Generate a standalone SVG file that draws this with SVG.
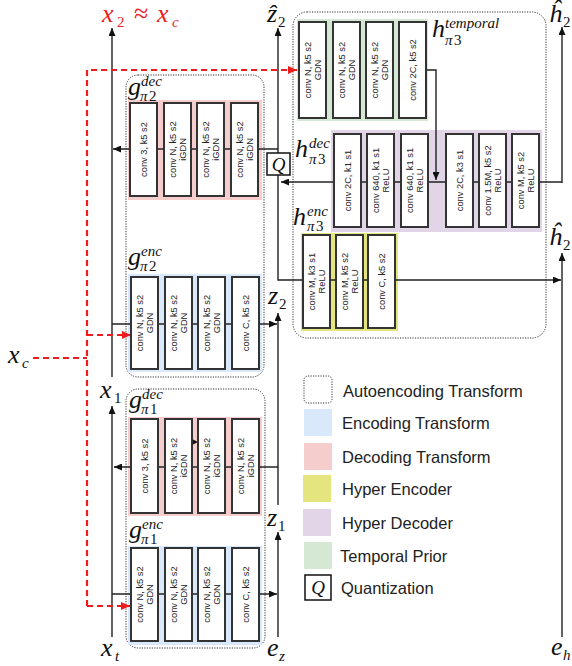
<svg xmlns="http://www.w3.org/2000/svg" width="572" height="666" viewBox="0 0 572 666">
<defs>
<style>
.bx{fill:#fff;stroke:#333;stroke-width:2}
.t{font-family:"Liberation Sans",Arial,sans-serif;font-size:9.3px;fill:#222;text-anchor:middle}
.ln{fill:none;stroke:#222;stroke-width:1.4}
.rd{fill:none;stroke:#ee1c1c;stroke-width:2.2;stroke-dasharray:6 4}
.dt{fill:none;stroke:#333;stroke-width:1;stroke-dasharray:1.2 1.3}
.m{font-family:"Liberation Serif","Times New Roman",serif;font-style:italic;font-size:26px;fill:#111}
.s{font-size:15px}
.u{font-style:normal}
.red{fill:#ee1c1c}
.lg{font-family:"Liberation Sans",Arial,sans-serif;font-size:16.5px;fill:#222}
.enc{fill:#dae8fc}
.dec{fill:#f5cdcd}
.hen{fill:#e4e57f}
.hde{fill:#e1d5e7}
.tem{fill:#d5e8d4}
</style>
<marker id="ah" viewBox="0 0 8 7" refX="8" refY="3.5" markerWidth="8" markerHeight="7" markerUnits="userSpaceOnUse" orient="auto"><path d="M0,0L8,3.5L0,7z" fill="#111"/></marker>
<marker id="rh" viewBox="0 0 9 8" refX="9" refY="4" markerWidth="9" markerHeight="8" markerUnits="userSpaceOnUse" orient="auto"><path d="M0,0L9,4L0,8z" fill="#ee1c1c"/></marker>
</defs>
<rect width="572" height="666" fill="#fff"/>

<!-- autoencoding (dotted) regions -->
<g id="ae2"><rect class="dt" x="126" y="75" width="138" height="302" rx="12"/></g>
<g id="ae1"><rect class="dt" x="126" y="389" width="139" height="259" rx="12"/></g>
<g id="hyper"><rect class="dt" x="293" y="12" width="253" height="326" rx="14"/></g>

<!-- backgrounds -->
<g id="bg">
<rect id="bg-g2dec" class="dec" x="128" y="100" width="134" height="100"/>
<rect id="bg-g2enc" class="enc" x="128" y="274" width="134" height="98"/>
<rect id="bg-g1dec" class="dec" x="128" y="417" width="134" height="99"/>
<rect id="bg-g1enc" class="enc" x="128" y="546" width="134" height="99"/>
<rect id="bg-temp" class="tem" x="297" y="19" width="131" height="102"/>
<rect id="bg-hdec" class="hde" x="331" y="130" width="211" height="102"/>
<rect id="bg-henc" class="hen" x="301" y="233" width="97" height="98"/>
</g>

<!-- connectors -->
<g id="connectors">
<path class="ln" d="M112,377V28" marker-end="url(#ah)"/>
<path class="ln" d="M278,149H113" marker-end="url(#ah)"/>
<path class="ln" d="M278,153V28" marker-end="url(#ah)"/>
<path class="ln" d="M278,175V280H561" marker-end="url(#ah)"/>
<path class="ln" d="M562,182H281" marker-end="url(#ah)"/>
<path class="ln" d="M562,183V27" marker-end="url(#ah)"/>
<path class="ln" d="M562,637V253" marker-end="url(#ah)"/>
<path class="ln" d="M427,70H436V180" marker-end="url(#ah)"/>
<path class="ln" d="M112,324H277" marker-end="url(#ah)"/>
<path class="ln" d="M278,505V313" marker-end="url(#ah)"/>
<path class="ln" d="M278,467H114" marker-end="url(#ah)"/>
<path class="ln" d="M112,637V406" marker-end="url(#ah)"/>
<path class="ln" d="M112,594H277" marker-end="url(#ah)"/>
<path class="ln" d="M278,637V532" marker-end="url(#ah)"/>
<path d="M193,439.5L198,442L193,444.5z" fill="#111"/>
<path class="rd" d="M87,606V70H297" marker-end="url(#rh)"/>
<path class="rd" d="M87,335H131" marker-end="url(#rh)"/>
<path class="rd" d="M87,606H130" marker-end="url(#rh)"/>
<path class="rd" d="M33,358H87"/>
</g>

<!-- g_pi2 decoder -->
<g id="g2dec">
<rect class="bx" x="130" y="103" width="27" height="93"/>
<text class="t" transform="translate(143.5,149.5) rotate(-90)" y="3.3">conv 3, k5 s2</text>
<rect class="bx" x="164" y="103" width="27" height="93"/>
<text class="t" transform="translate(177.5,149.5) rotate(-90)"><tspan x="0" y="-1.6">conv N, k5 s2</tspan><tspan x="0" y="8.2">iGDN</tspan></text>
<rect class="bx" x="197" y="103" width="27" height="93"/>
<text class="t" transform="translate(210.5,149.5) rotate(-90)"><tspan x="0" y="-1.6">conv N, k5 s2</tspan><tspan x="0" y="8.2">iGDN</tspan></text>
<rect class="bx" x="231" y="103" width="27" height="93"/>
<text class="t" transform="translate(244.5,149.5) rotate(-90)"><tspan x="0" y="-1.6">conv N, k5 s2</tspan><tspan x="0" y="8.2">iGDN</tspan></text>
</g>

<!-- g_pi2 encoder -->
<g id="g2enc">
<rect class="bx" x="131" y="277" width="27" height="92"/>
<text class="t" transform="translate(144.5,323) rotate(-90)"><tspan x="0" y="-1.6">conv N, k5 s2</tspan><tspan x="0" y="8.2">GDN</tspan></text>
<rect class="bx" x="165" y="277" width="27" height="92"/>
<text class="t" transform="translate(178.5,323) rotate(-90)"><tspan x="0" y="-1.6">conv N, k5 s2</tspan><tspan x="0" y="8.2">GDN</tspan></text>
<rect class="bx" x="198" y="277" width="27" height="92"/>
<text class="t" transform="translate(211.5,323) rotate(-90)"><tspan x="0" y="-1.6">conv N, k5 s2</tspan><tspan x="0" y="8.2">GDN</tspan></text>
<rect class="bx" x="232" y="277" width="27" height="92"/>
<text class="t" transform="translate(245.5,323) rotate(-90)" y="3.3">conv C, k5 s2</text>
</g>

<!-- g_pi1 decoder -->
<g id="g1dec">
<rect class="bx" x="131" y="419" width="27" height="94"/>
<text class="t" transform="translate(144.5,466) rotate(-90)" y="3.3">conv 3, k5 s2</text>
<rect class="bx" x="165" y="419" width="27" height="94"/>
<text class="t" transform="translate(178.5,466) rotate(-90)"><tspan x="0" y="-1.6">conv N, k5 s2</tspan><tspan x="0" y="8.2">iGDN</tspan></text>
<rect class="bx" x="198" y="419" width="27" height="94"/>
<text class="t" transform="translate(211.5,466) rotate(-90)"><tspan x="0" y="-1.6">conv N, k5 s2</tspan><tspan x="0" y="8.2">iGDN</tspan></text>
<rect class="bx" x="232" y="419" width="27" height="94"/>
<text class="t" transform="translate(245.5,466) rotate(-90)"><tspan x="0" y="-1.6">conv N, k5 s2</tspan><tspan x="0" y="8.2">iGDN</tspan></text>
</g>

<!-- g_pi1 encoder -->
<g id="g1enc">
<rect class="bx" x="131" y="548" width="27" height="93"/>
<text class="t" transform="translate(144.5,594.5) rotate(-90)"><tspan x="0" y="-1.6">conv N, k5 s2</tspan><tspan x="0" y="8.2">GDN</tspan></text>
<rect class="bx" x="165" y="548" width="27" height="93"/>
<text class="t" transform="translate(178.5,594.5) rotate(-90)"><tspan x="0" y="-1.6">conv N, k5 s2</tspan><tspan x="0" y="8.2">GDN</tspan></text>
<rect class="bx" x="198" y="548" width="27" height="93"/>
<text class="t" transform="translate(211.5,594.5) rotate(-90)"><tspan x="0" y="-1.6">conv N, k5 s2</tspan><tspan x="0" y="8.2">GDN</tspan></text>
<rect class="bx" x="232" y="548" width="27" height="93"/>
<text class="t" transform="translate(245.5,594.5) rotate(-90)" y="3.3">conv C, k5 s2</text>
</g>

<!-- temporal prior -->
<g id="temporal">
<rect class="bx" x="299" y="22" width="27" height="96"/>
<text class="t" transform="translate(312.5,70) rotate(-90)"><tspan x="0" y="-1.6">conv N, k5 s2</tspan><tspan x="0" y="8.2">GDN</tspan></text>
<rect class="bx" x="333" y="22" width="27" height="96"/>
<text class="t" transform="translate(346.5,70) rotate(-90)"><tspan x="0" y="-1.6">conv N, k5 s2</tspan><tspan x="0" y="8.2">GDN</tspan></text>
<rect class="bx" x="366" y="22" width="27" height="96"/>
<text class="t" transform="translate(379.5,70) rotate(-90)"><tspan x="0" y="-1.6">conv N, k5 s2</tspan><tspan x="0" y="8.2">GDN</tspan></text>
<rect class="bx" x="399" y="22" width="27" height="96"/>
<text class="t" transform="translate(412.5,70) rotate(-90)" y="3.3">conv 2C, k5 s2</text>
</g>

<!-- hyper decoder -->
<g id="hdec">
<rect class="bx" x="334" y="134" width="27" height="93"/>
<text class="t" transform="translate(347.5,180.5) rotate(-90)" y="3.3">conv 2C, k1 s1</text>
<rect class="bx" x="367" y="134" width="27" height="93"/>
<text class="t" transform="translate(380.5,180.5) rotate(-90)"><tspan x="0" y="-1.6">conv 640, k1 s1</tspan><tspan x="0" y="8.2">ReLU</tspan></text>
<rect class="bx" x="401" y="134" width="27" height="93"/>
<text class="t" transform="translate(414.5,180.5) rotate(-90)"><tspan x="0" y="-1.6">conv 640, k1 s1</tspan><tspan x="0" y="8.2">ReLU</tspan></text>
<rect class="bx" x="446" y="134" width="27" height="93"/>
<text class="t" transform="translate(459.5,180.5) rotate(-90)" y="3.3">conv 2C, k3 s1</text>
<rect class="bx" x="479" y="134" width="27" height="93"/>
<text class="t" transform="translate(492.5,180.5) rotate(-90)"><tspan x="0" y="-1.6">conv 1.5M, k5 s2</tspan><tspan x="0" y="8.2">ReLU</tspan></text>
<rect class="bx" x="512" y="134" width="27" height="93"/>
<text class="t" transform="translate(525.5,180.5) rotate(-90)"><tspan x="0" y="-1.6">conv M, k5 s2</tspan><tspan x="0" y="8.2">ReLU</tspan></text>
</g>

<!-- hyper encoder -->
<g id="henc">
<rect class="bx" x="303" y="235" width="27" height="93"/>
<text class="t" transform="translate(316.5,281.5) rotate(-90)"><tspan x="0" y="-1.6">conv M, k3 s1</tspan><tspan x="0" y="8.2">ReLU</tspan></text>
<rect class="bx" x="336" y="235" width="27" height="93"/>
<text class="t" transform="translate(349.5,281.5) rotate(-90)"><tspan x="0" y="-1.6">conv M, k5 s2</tspan><tspan x="0" y="8.2">ReLU</tspan></text>
<rect class="bx" x="368" y="235" width="27" height="93"/>
<text class="t" transform="translate(381.5,281.5) rotate(-90)" y="3.3">conv C, k5 s2</text>
</g>

<!-- quantization -->
<g id="quant">
<rect x="267" y="153" width="23" height="22" fill="#fff" stroke="#111" stroke-width="1.5"/>
<text class="m" x="278.5" y="171" style="font-size:19px" text-anchor="middle">Q</text>
</g>

<!-- math labels -->
<g id="labels">
<text class="m red" x="102" y="22">x<tspan class="s u" x="117" y="27">2</tspan><tspan class="u" x="134" y="22">≈</tspan><tspan x="157" y="22">x</tspan><tspan class="s" x="172" y="27">c</tspan></text>
<text class="m" x="267" y="22">ẑ<tspan class="s u" x="278" y="27">2</tspan></text>
<text class="m" x="549" y="22">ĥ<tspan class="s u" x="563" y="27">2</tspan></text>
<text class="m" x="549" y="245">ĥ<tspan class="s u" x="563" y="250">2</tspan></text>
<text class="m" x="8" y="363">x<tspan class="s" x="22" y="368">c</tspan></text>
<text class="m" x="100" y="398">x<tspan class="s u" x="114" y="403">1</tspan></text>
<text class="m" x="268" y="304">z<tspan class="s u" x="279" y="309">2</tspan></text>
<text class="m" x="267" y="526">z<tspan class="s u" x="278" y="531">1</tspan></text>
<text class="m" x="101" y="656">x<tspan class="s" x="115" y="661">t</tspan></text>
<text class="m" x="267" y="656">e<tspan class="s" x="279" y="661">z</tspan></text>
<text class="m" x="551" y="655">e<tspan class="s" x="563" y="660">h</tspan></text>
<text class="m" x="128" y="95">g<tspan class="s" x="141" y="86">dec</tspan><tspan class="s" x="140" y="101">π</tspan><tspan class="s u" x="149" y="101">2</tspan></text>
<text class="m" x="128" y="265">g<tspan class="s" x="141" y="256">enc</tspan><tspan class="s" x="140" y="271">π</tspan><tspan class="s u" x="149" y="271">2</tspan></text>
<text class="m" x="129" y="408">g<tspan class="s" x="142" y="399">dec</tspan><tspan class="s" x="141" y="414">π</tspan><tspan class="s u" x="150" y="414">1</tspan></text>
<text class="m" x="129" y="538">g<tspan class="s" x="142" y="529">enc</tspan><tspan class="s" x="141" y="544">π</tspan><tspan class="s u" x="150" y="544">1</tspan></text>
<text class="m" x="432" y="37">h<tspan class="s" x="445" y="28">temporal</tspan><tspan class="s" x="445" y="45">π</tspan><tspan class="s u" x="454" y="45">3</tspan></text>
<text class="m" x="295" y="157">h<tspan class="s" x="309" y="148">dec</tspan><tspan class="s" x="309" y="164">π</tspan><tspan class="s u" x="318" y="164">3</tspan></text>
<text class="m" x="293" y="225">h<tspan class="s" x="307" y="216">enc</tspan><tspan class="s" x="307" y="231">π</tspan><tspan class="s u" x="316" y="231">3</tspan></text>
</g>

<!-- legend -->
<g id="legend">
<rect class="dt" x="304" y="376" width="28" height="27" rx="4"/>
<text class="lg" x="343" y="397">Autoencoding Transform</text>
<rect class="enc" x="304" y="409" width="28" height="27"/>
<text class="lg" x="342" y="429">Encoding Transform</text>
<rect class="dec" x="304" y="443" width="28" height="27"/>
<text class="lg" x="342" y="463">Decoding Transform</text>
<rect class="hen" x="303" y="475" width="28" height="27"/>
<text class="lg" x="342" y="495">Hyper Encoder</text>
<rect class="hde" x="303" y="509" width="28" height="27"/>
<text class="lg" x="342" y="529">Hyper Decoder</text>
<rect class="tem" x="304" y="542" width="28" height="27"/>
<text class="lg" x="340" y="562">Temporal Prior</text>
<rect x="305" y="575" width="26" height="25" fill="#fff" stroke="#111" stroke-width="1.5"/>
<text class="m" x="318" y="594" style="font-size:19px" text-anchor="middle">Q</text>
<text class="lg" x="341" y="594">Quantization</text>
</g>
</svg>
